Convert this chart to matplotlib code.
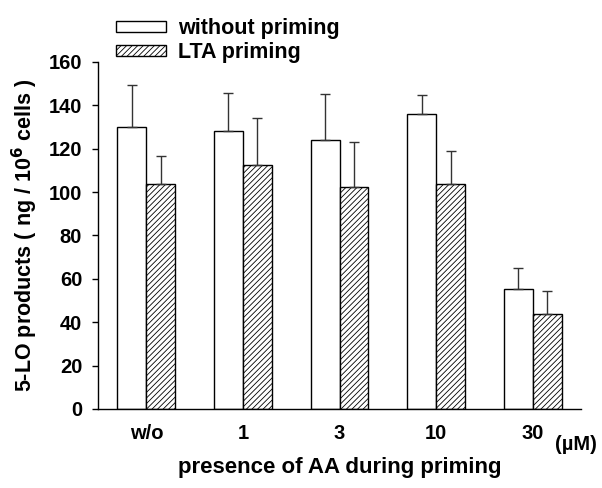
import matplotlib
matplotlib.use("Agg")
import matplotlib.pyplot as plt
import numpy as np

plt.rcParams['font.family'] = ['Liberation Sans', 'DejaVu Sans']
plt.rcParams['hatch.linewidth'] = 0.6

categories = ["w/o", "1", "3", "10", "30"]
without_priming = [130, 128.2, 123.8, 135.9, 55.5]
without_err = [19.3, 17.3, 21.5, 9.1, 9.5]
lta_priming = [103.8, 112.6, 102.4, 103.8, 44.0]
lta_err = [13.0, 21.4, 20.8, 15.0, 10.5]
yticks = [0, 20, 40, 60, 80, 100, 120, 140, 160]

fig = plt.figure(figsize=(6.02, 4.88), dpi=100)
ax = fig.add_axes([0.163, 0.162, 0.802, 0.711])

x = np.arange(len(categories))
w = 0.3
ekw = dict(ecolor='#333333', elinewidth=1.0, capsize=3.8, capthick=1.0)
ax.bar(x - w/2, without_priming, w, color='white', edgecolor='black', linewidth=1.0,
       yerr=[np.zeros(len(x)), without_err], error_kw=ekw, label='without priming')
ax.bar(x + w/2, lta_priming, w, color='white', edgecolor='black', linewidth=1.0,
       hatch='//////', yerr=[np.zeros(len(x)), lta_err], error_kw=ekw, label='LTA priming')

ax.set_xlim(-0.5, 4.5)
ax.set_ylim(0, 160)
ax.set_yticks(yticks)
ax.set_yticklabels([str(t) for t in yticks], fontsize=14.5, fontweight='bold')
ax.set_xticks(x)
ax.set_xticklabels(categories, fontsize=14.5, fontweight='bold')
ax.tick_params(axis='x', length=0, pad=11)
ax.tick_params(axis='y', length=4.5, width=1, direction='out', pad=7)
for s in ['top', 'right']:
    ax.spines[s].set_visible(False)
ax.spines['left'].set_linewidth(1.0)
ax.spines['bottom'].set_linewidth(1.0)

ax.set_ylabel(r'5-LO products ( ng / 10$^\mathbf{6}$ cells )', fontsize=15.5, fontweight='bold', labelpad=6)
ax.set_xlabel('presence of AA during priming', fontsize=16, fontweight='bold', labelpad=10)
fig.text(555/602, 1 - 444/488, '(µM)', fontsize=14.5, fontweight='bold', ha='left', va='center')

leg = fig.legend(loc='upper left', bbox_to_anchor=(116/602, 1 - 18/488), frameon=False,
                 prop={'weight': 'bold', 'size': 15.5}, handlelength=2.3, handleheight=0.4,
                 handletextpad=0.6, labelspacing=0.15, borderaxespad=0, borderpad=0)

fig.savefig('out.png', dpi=100)
